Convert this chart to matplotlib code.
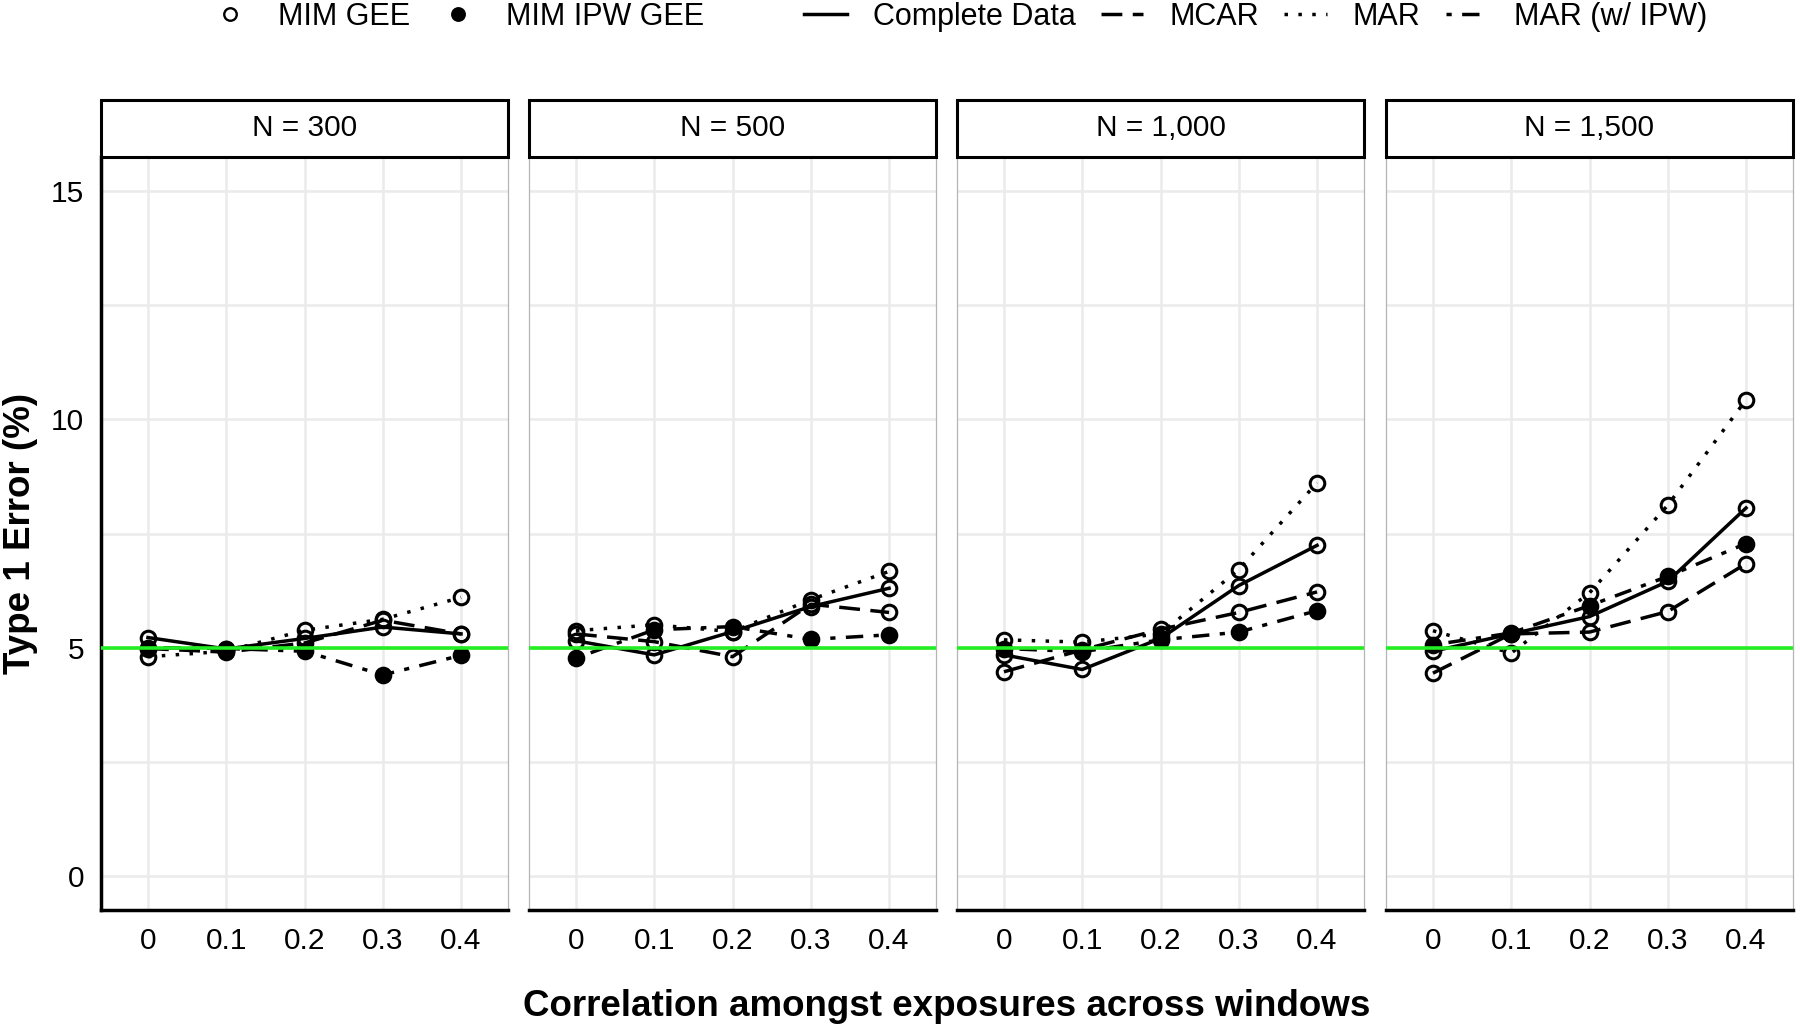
import matplotlib
matplotlib.use("Agg")
import matplotlib.pyplot as plt
from matplotlib.lines import Line2D
from matplotlib.patches import Rectangle

plt.rcParams['font.family'] = ['Liberation Sans', 'DejaVu Sans']

# ---------------- data ----------------
correlation = [0, 0.1, 0.2, 0.3, 0.4]
xtick_labels = ["0", "0.1", "0.2", "0.3", "0.4"]
panel_labels = ["N = 300", "N = 500", "N = 1,000", "N = 1,500"]

complete_data = [
    [5.22, 4.97, 5.20, 5.45, 5.30],
    [5.15, 4.84, 5.35, 5.90, 6.30],
    [4.84, 4.52, 5.20, 6.36, 7.24],
    [4.92, 5.30, 5.68, 6.45, 8.06],
]
mcar = [
    [4.98, 4.90, 5.10, 5.60, 5.30],
    [5.30, 5.13, 4.80, 5.95, 5.77],
    [4.47, 4.95, 5.40, 5.77, 6.22],
    [4.44, 5.30, 5.34, 5.79, 6.84],
]
mar = [
    [4.80, 4.92, 5.38, 5.62, 6.10],
    [5.37, 5.50, 5.35, 6.05, 6.67],
    [5.17, 5.12, 5.30, 6.71, 8.61],
    [5.37, 4.88, 6.20, 8.12, 10.43],
]
mar_ipw = [
    [5.00, 4.98, 4.92, 4.40, 4.83],
    [4.77, 5.39, 5.46, 5.18, 5.28],
    [4.98, 4.91, 5.17, 5.34, 5.81],
    [5.06, 5.32, 5.92, 6.56, 7.28],
]
reference_level = 5

series_labels = ["Complete Data", "MCAR", "MAR", "MAR (w/ IPW)"]
shape_labels = ["MIM GEE", "MIM IPW GEE"]

# ---------------- styles ----------------
linestyles = ['-', (0, (6, 3)), (0, (1, 3)), (0, (1.5, 3, 5, 3))]
filled = [False, False, False, True]

W, H = 1800, 1030
fig = plt.figure(figsize=(W / 100, H / 100), dpi=100)

panel_left_px = [101, 529, 957, 1386]
panel_w_px = 407
top_px, bottom_px = 157, 910
strip_h_px = 57
ax_h_px = bottom_px - top_px

FS = 21.5

all_series = [complete_data, mcar, mar, mar_ipw]

for i, lab in enumerate(panel_labels):
    ax = fig.add_axes([panel_left_px[i] / W, 1 - bottom_px / H,
                       panel_w_px / W, ax_h_px / H])
    ax.set_xlim(-0.06, 0.46)
    ax.set_ylim(-0.75, 15.75)
    ax.set_xticks(correlation)
    ax.set_xticklabels(xtick_labels)
    ax.set_yticks([0, 5, 10, 15])
    ax.set_yticks([2.5, 7.5, 12.5], minor=True)
    ax.grid(axis='x', which='major', color='#EBEBEB', lw=1.8)
    ax.grid(axis='y', which='both', color='#EBEBEB', lw=1.8)
    ax.set_axisbelow(True)
    ax.tick_params(which='both', length=0, labelsize=FS)
    ax.tick_params(axis='x', pad=12)
    ax.tick_params(axis='y', pad=12, labelleft=(i == 0))

    ax.spines['top'].set_visible(False)
    for s in ['left', 'right']:
        ax.spines[s].set_color('#B5B5B5')
        ax.spines[s].set_linewidth(0.9)
    ax.spines['bottom'].set_color('black')
    ax.spines['bottom'].set_linewidth(2.5)
    if i == 0:
        ax.spines['left'].set_color('black')
        ax.spines['left'].set_linewidth(2.5)

    for k, ser in enumerate(all_series):
        ax.plot(correlation, ser[i], color='black', lw=2.5, ls=linestyles[k],
                marker='o', ms=10.5, mew=2.2, mec='black',
                mfc='black' if filled[k] else 'none', zorder=3)

    ax.axhline(reference_level, color='#22EE22', lw=2.6, zorder=5)

    # strip
    sh = strip_h_px / ax_h_px
    ax.add_patch(Rectangle((0, 1), 1, sh, transform=ax.transAxes,
                           facecolor='white', edgecolor='black', lw=2.2,
                           clip_on=False, zorder=6))
    ax.text(0.5, 1 + sh / 2, lab, transform=ax.transAxes, ha='center',
            va='center', fontsize=FS, zorder=7)

fig.text(21 / W, 1 - 533 / H, "Type 1 Error (%)", rotation=90,
         fontweight='bold', fontsize=26.5, ha='center', va='center')
fig.text(947 / W, 1 - 1006 / H, "Correlation amongst exposures across windows",
         fontweight='bold', fontsize=26.5, ha='center', va='center')

# legends
LFS = 22
shape_handles = [
    Line2D([], [], ls='none', marker='o', mfc='none', mec='black', ms=9, mew=1.7),
    Line2D([], [], ls='none', marker='o', mfc='black', mec='black', ms=9, mew=1.7),
]
fig.legend(shape_handles, shape_labels, loc='center left',
           bbox_to_anchor=(215 / W, 1 - 17 / H), ncol=2, frameon=False,
           fontsize=LFS, handlelength=1.0, handletextpad=1.07,
           columnspacing=1.07, borderpad=0, borderaxespad=0)

line_handles = [Line2D([], [], color='black', lw=2.5, ls=linestyles[k])
                for k in range(4)]
fig.legend(line_handles, series_labels, loc='center left',
           bbox_to_anchor=(804 / W, 1 - 17 / H), ncol=4, frameon=False,
           fontsize=LFS, handlelength=1.4, handletextpad=0.85,
           columnspacing=0.82, borderpad=0, borderaxespad=0)

fig.savefig("out.png", dpi=100, facecolor='white')
